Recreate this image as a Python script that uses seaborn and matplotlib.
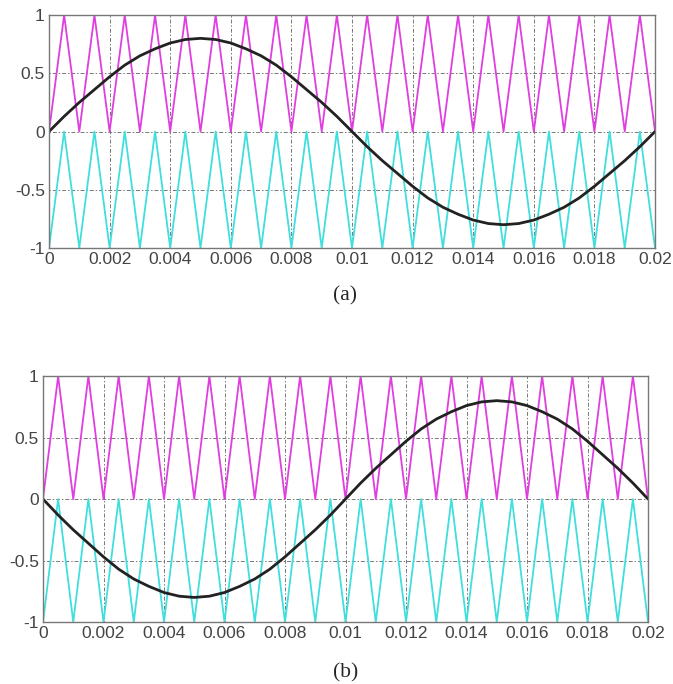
import numpy as np
import pandas as pd
import matplotlib
matplotlib.use("Agg")
import matplotlib.pyplot as plt
import seaborn as sns

# sample times (s), one every half carrier period
time_s = [0.0000, 0.0005, 0.0010, 0.0015, 0.0020, 0.0025, 0.0030, 0.0035, 0.0040, 0.0045,
          0.0050, 0.0055, 0.0060, 0.0065, 0.0070, 0.0075, 0.0080, 0.0085, 0.0090, 0.0095,
          0.0100, 0.0105, 0.0110, 0.0115, 0.0120, 0.0125, 0.0130, 0.0135, 0.0140, 0.0145,
          0.0150, 0.0155, 0.0160, 0.0165, 0.0170, 0.0175, 0.0180, 0.0185, 0.0190, 0.0195,
          0.0200]

# upper carrier (magenta), 0..1
upper_carrier = [0, 1, 0, 1, 0, 1, 0, 1, 0, 1,
                 0, 1, 0, 1, 0, 1, 0, 1, 0, 1,
                 0, 1, 0, 1, 0, 1, 0, 1, 0, 1,
                 0, 1, 0, 1, 0, 1, 0, 1, 0, 1,
                 0]

# lower carrier (cyan), -1..0
lower_carrier = [-1, 0, -1, 0, -1, 0, -1, 0, -1, 0,
                 -1, 0, -1, 0, -1, 0, -1, 0, -1, 0,
                 -1, 0, -1, 0, -1, 0, -1, 0, -1, 0,
                 -1, 0, -1, 0, -1, 0, -1, 0, -1, 0,
                 -1]

# reference wave for panel (a)
ref_a = [0.00, 0.13, 0.25, 0.36, 0.47, 0.57, 0.65, 0.71, 0.76, 0.79,
         0.80, 0.79, 0.76, 0.71, 0.65, 0.57, 0.47, 0.36, 0.25, 0.13,
         0.00, -0.13, -0.25, -0.36, -0.47, -0.57, -0.65, -0.71, -0.76, -0.79,
         -0.80, -0.79, -0.76, -0.71, -0.65, -0.57, -0.47, -0.36, -0.25, -0.13,
         0.00]

# reference wave for panel (b)
ref_b = [0.00, -0.13, -0.25, -0.36, -0.47, -0.57, -0.65, -0.71, -0.76, -0.79,
         -0.80, -0.79, -0.76, -0.71, -0.65, -0.57, -0.47, -0.36, -0.25, -0.13,
         0.00, 0.13, 0.25, 0.36, 0.47, 0.57, 0.65, 0.71, 0.76, 0.79,
         0.80, 0.79, 0.76, 0.71, 0.65, 0.57, 0.47, 0.36, 0.25, 0.13,
         0.00]

x_ticks = [0, 0.002, 0.004, 0.006, 0.008, 0.01, 0.012, 0.014, 0.016, 0.018, 0.02]
x_tick_labels = ["0", "0.002", "0.004", "0.006", "0.008", "0.01",
                 "0.012", "0.014", "0.016", "0.018", "0.02"]
y_ticks = [-1, -0.5, 0, 0.5, 1]
y_tick_labels = ["-1", "-0.5", "0", "0.5", "1"]
captions = ["(a)", "(b)"]

sns.set_style("white")
plt.rcParams["font.family"] = ["Liberation Sans", "DejaVu Sans"]

fig = plt.figure(figsize=(6.73, 6.84), dpi=100)
ax_a = fig.add_axes([0.0728, 0.6374, 0.9005, 0.3406])
ax_b = fig.add_axes([0.0639, 0.0906, 0.8990, 0.3596])


def draw_panel(ax, ref_values):
    df = pd.DataFrame({
        "t": time_s,
        "upper": upper_carrier,
        "lower": lower_carrier,
        "ref": ref_values,
    })
    sns.lineplot(data=df, x="t", y="upper", ax=ax, color="#e03ee0", linewidth=1.3)
    sns.lineplot(data=df, x="t", y="lower", ax=ax, color="#40dede", linewidth=1.3)
    sns.lineplot(data=df, x="t", y="ref", ax=ax, color="#222222", linewidth=2.0)
    ax.set_xlim(0, 0.02)
    ax.set_ylim(-1, 1)
    ax.set_xticks(x_ticks)
    ax.set_xticklabels(x_tick_labels)
    ax.set_yticks(y_ticks)
    ax.set_yticklabels(y_tick_labels)
    ax.set_xlabel("")
    ax.set_ylabel("")
    ax.grid(True, linestyle=(0, (1.5, 2, 4, 2)), color="#777777", linewidth=0.7)
    ax.tick_params(direction="in", length=3, labelsize=12.5, colors="#555555",
                   labelcolor="#444444", pad=3)
    for spine in ax.spines.values():
        spine.set_color("#777777")
        spine.set_linewidth(1.0)


draw_panel(ax_a, ref_a)
draw_panel(ax_b, ref_b)

fig.text(0.513, 0.568, captions[0], ha="center", va="center",
         family="Liberation Serif", fontsize=15.5)
fig.text(0.513, 0.016, captions[1], ha="center", va="center",
         family="Liberation Serif", fontsize=15.5)

fig.savefig("out.png", dpi=100)
plt.close(fig)
